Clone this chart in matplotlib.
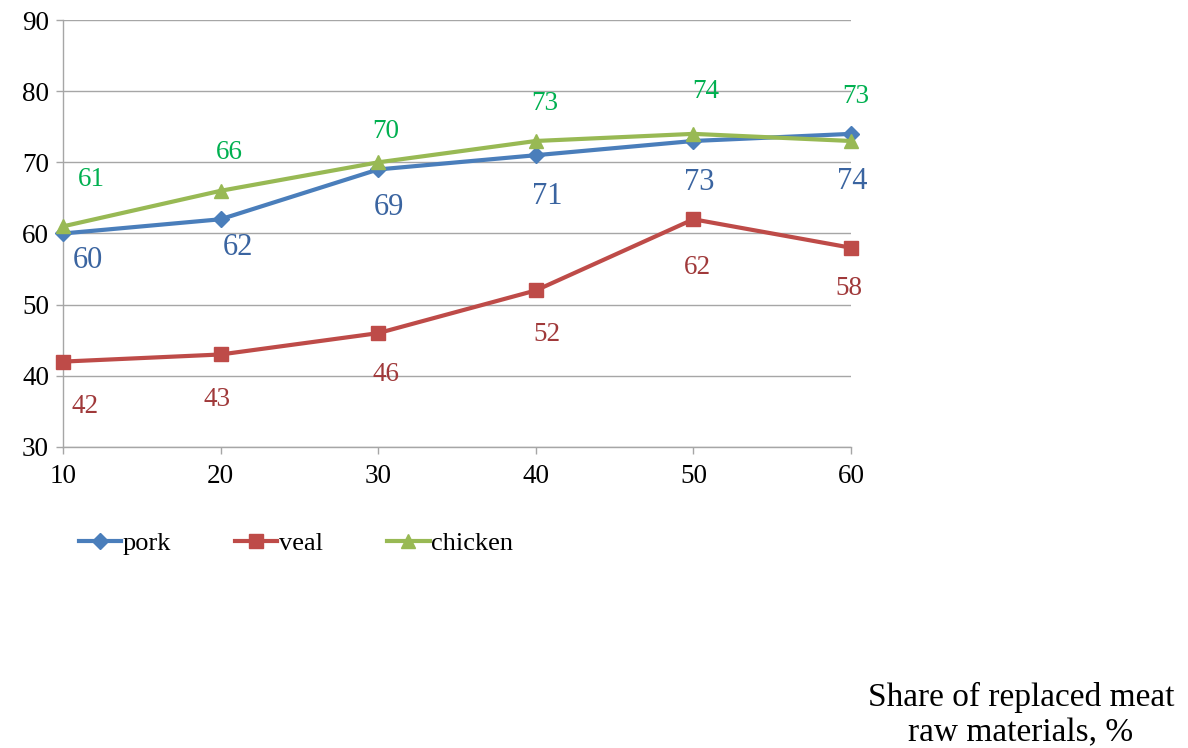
import matplotlib
matplotlib.use("Agg")
import matplotlib.pyplot as plt

plt.rcParams['font.family'] = ['Liberation Serif', 'DejaVu Serif']

# Data
share = [10, 20, 30, 40, 50, 60]
pork = [60, 62, 69, 71, 73, 74]
veal = [42, 43, 46, 52, 62, 58]
chicken = [61, 66, 70, 73, 74, 73]
y_ticks = [30, 40, 50, 60, 70, 80, 90]

# Label offsets in pixels (dx, dy) relative to each point
pork_off = [(25, -27), (17, -28), (11, -38), (11, -41), (6, -42), (1, -48)]
veal_off = [(22, -45), (-4, -45), (8, -41), (11, -44), (4, -48), (-2, -41)]
chicken_off = [(28, 47), (9, 38), (8, 31), (9, 37), (12, 42), (5, 44)]

W, H = 1188, 748
fig = plt.figure(figsize=(W / 100, H / 100), dpi=100)
ax = fig.add_axes([63 / W, 1 - 447 / H, (851 - 63) / W, (447 - 20) / H])

grid_c = '#A6A6A6'
series = [
    ('pork', pork, '#4A7EBB', 'D', 8.5, '#3A64A0', 22, pork_off),
    ('veal', veal, '#BE4B48', 's', 10.5, '#A0393A', 19.5, veal_off),
    ('chicken', chicken, '#98B954', '^', 10.5, '#00B050', 19.5, chicken_off),
]

for name, vals, col, mk, ms, tcol, fs, offs in series:
    ax.plot(share, vals, color=col, lw=3.0, marker=mk, ms=ms,
            markeredgecolor=col, label=name, zorder=3, clip_on=False)
    for x, v, (dx, dy) in zip(share, vals, offs):
        ax.annotate(str(v), (x, v), xytext=(dx * 0.72, dy * 0.72),
                    textcoords='offset points', ha='center', va='center',
                    color=tcol, fontsize=fs)

ax.set_xlim(10, 60)
ax.set_ylim(30, 90)
ax.set_xticks(share)
ax.set_yticks(y_ticks)
ax.yaxis.grid(True, color=grid_c, lw=1.0)
ax.set_axisbelow(True)
for s in ['top', 'right']:
    ax.spines[s].set_visible(False)
for s in ['left', 'bottom']:
    ax.spines[s].set_color(grid_c)
    ax.spines[s].set_linewidth(1.0)
ax.tick_params(axis='both', colors=grid_c, length=5, width=1.0,
               labelcolor='black', labelsize=19.5)
ax.tick_params(axis='x', pad=7)
ax.tick_params(axis='y', pad=5)

fig.legend(loc='center left', bbox_to_anchor=(68 / W, 1 - 543 / H),
           ncol=3, frameon=False, fontsize=19, handlelength=1.6,
           handletextpad=0.05, columnspacing=2.45, borderaxespad=0)

fig.text(1021 / W, 1 - 715 / H, 'Share of replaced meat\nraw materials, %',
         ha='center', va='center', fontsize=24, linespacing=1.2)

fig.savefig('out.png', dpi=100)
